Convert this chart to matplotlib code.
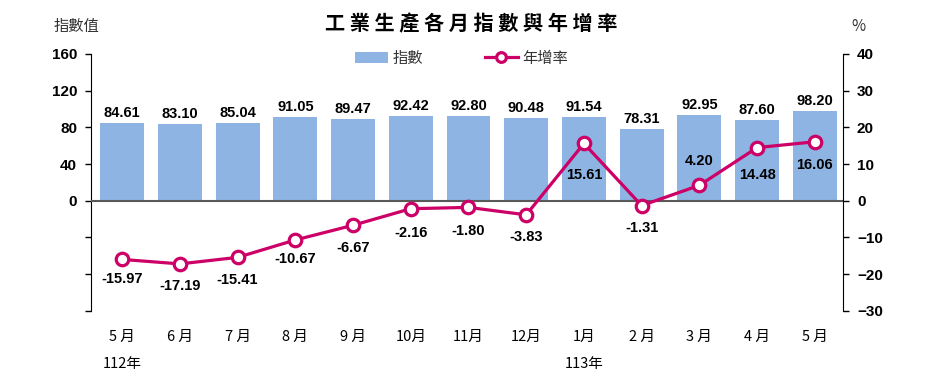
import matplotlib
matplotlib.use('Agg')
import matplotlib.pyplot as plt
from matplotlib.lines import Line2D
from matplotlib.patches import Patch

CJK = ['Noto Sans CJK TC', 'DejaVu Sans']
NUM = ['Liberation Sans', 'DejaVu Sans']

months = ['5 月', '6 月', '7 月', '8 月', '9 月', '10月', '11月', '12月',
          '1月', '2 月', '3 月', '4 月', '5 月']
years = {0: '112年', 8: '113年'}
index_vals = [84.61, 83.10, 85.04, 91.05, 89.47, 92.42, 92.80, 90.48,
              91.54, 78.31, 92.95, 87.60, 98.20]
growth_vals = [-15.97, -17.19, -15.41, -10.67, -6.67, -2.16, -1.80, -3.83,
               15.61, -1.31, 4.20, 14.48, 16.06]

# label offsets for the growth values (pixels)
growth_dy = [-20, -22, -23, -19, -23, -24, -24, -22, -32, -22, 24, -27, -23]

bar_color = '#8DB4E2'
line_color = '#CC0066'


def main():
    fig = plt.figure(figsize=(9.42, 3.82), dpi=100)
    ax = fig.add_axes([0.0966, 0.186, 0.7984, 0.673])
    x = list(range(len(months)))

    ax.bar(x, index_vals, width=0.76, color=bar_color, zorder=2)
    ax.axhline(0, color='#595959', lw=1.5, zorder=3)
    ax.set_xlim(-0.54, 12.49)
    ax.set_ylim(-120, 160)
    ax.set_yticks([-120, -80, -40, 0, 40, 80, 120, 160])
    ax.set_yticklabels(['', '', '', '0', '40', '80', '120', '160'])
    for s in ['top', 'right', 'bottom']:
        ax.spines[s].set_visible(False)
    ax.spines['left'].set_color('black')
    ax.tick_params(axis='y', length=4, width=1, pad=6)
    ax.set_xticks(x)
    ax.set_xticklabels(months, family=CJK, fontsize=10.5)
    ax.tick_params(axis='x', length=0, pad=14)

    for i, v in enumerate(index_vals):
        ax.annotate(f'{v:.2f}', (i, v), xytext=(0, 3), textcoords='offset pixels',
                    ha='center', va='bottom', fontsize=10.5, fontweight='bold',
                    family=NUM, zorder=5)

    for i, lab in years.items():
        ax.text(i, -0.205, lab, transform=ax.get_xaxis_transform(),
                ha='center', va='center', fontsize=10.5, family=CJK)

    ax2 = ax.twinx()
    ax2.plot(x, growth_vals, color=line_color, lw=2.3, marker='o', markersize=9,
             markerfacecolor='white', markeredgecolor=line_color,
             markeredgewidth=2.3, zorder=4)
    ax2.set_ylim(-30, 40)
    ax2.set_yticks(range(-30, 41, 10))
    for s in ['top', 'left', 'bottom']:
        ax2.spines[s].set_visible(False)
    ax2.spines['right'].set_color('black')
    ax2.tick_params(axis='y', length=4, width=1, pad=6)

    for i, v in enumerate(growth_vals):
        ax2.annotate(f'{v:.2f}', (i, v), xytext=(0, growth_dy[i]),
                     textcoords='offset pixels', ha='center', va='center',
                     fontsize=10.5, fontweight='bold', family=NUM, zorder=6)

    for a in (ax, ax2):
        for lab in a.get_yticklabels():
            lab.set_fontweight('bold')
            lab.set_fontsize(11)
            lab.set_family(NUM)

    fig.text(0.5, 0.937, ' '.join('工業生產各月指數與年增率'), ha='center',
             va='center', fontsize=14.5, fontweight='bold', family=CJK)
    fig.text(0.081, 0.93, '指數值', ha='center', va='center', fontsize=11,
             family=CJK, color='#333333')
    fig.text(0.911, 0.93, '%', ha='center', va='center', fontsize=11,
             family=CJK, color='#333333')

    handles = [Patch(facecolor=bar_color, edgecolor='none'),
               Line2D([], [], color=line_color, lw=2.3, marker='o', markersize=7,
                      markerfacecolor='white', markeredgecolor=line_color,
                      markeredgewidth=2.3)]
    fig.legend(handles, ['指數', '年增率'], loc='center', ncol=2,
               bbox_to_anchor=(0.49, 0.848), frameon=False, columnspacing=4,
               handlelength=2.2, handletextpad=0.3,
               prop={'family': CJK, 'size': 11}, labelcolor='#333333')

    fig.savefig('out.png', dpi=100)


if __name__ == '__main__':
    main()
